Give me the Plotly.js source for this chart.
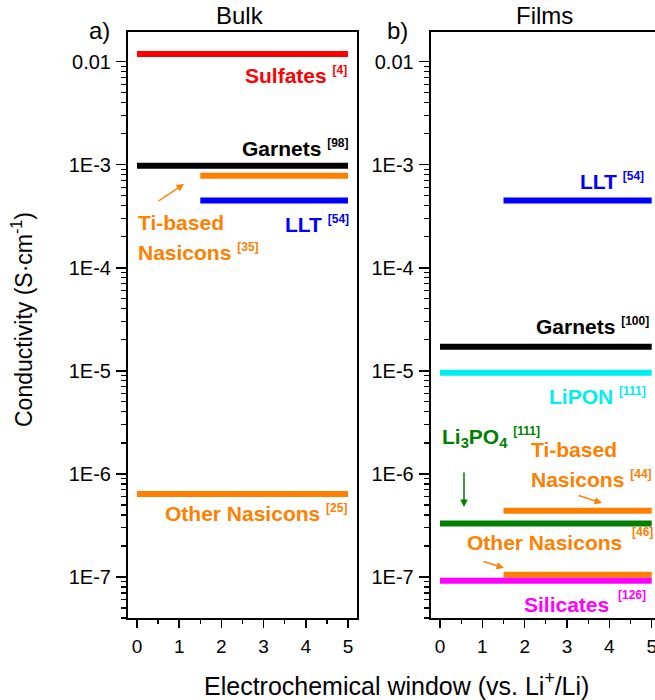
<!DOCTYPE html>
<html>
<head>
<meta charset="utf-8">
<script src="https://cdn.plot.ly/plotly-3.0.1.min.js"></script>
<style>html,body{margin:0;padding:0;background:#fff;}#chart{width:655px;height:700px;}</style>
</head>
<body>
<div id="chart"></div>
<script>
// ---- data ----
const bulkNames = ['Sulfates', 'Garnets', 'Ti-based Nasicons', 'LLT', 'Other Nasicons'];
const bulkStart = [0, 0, 1.5, 1.5, 0];
const bulkEnd   = [5, 5, 5, 5, 5];
const bulkCond  = [0.0119, 9.8e-4, 7.8e-4, 4.5e-4, 6.4e-7];

const filmNames = ['LLT', 'Garnets', 'LiPON', 'Ti-based Nasicons', 'Li3PO4', 'Other Nasicons', 'Silicates'];
const filmStart = [1.5, 0, 0, 1.5, 0, 1.5, 0];
const filmEnd   = [5, 5, 5, 5, 5, 5, 5];
const filmCond  = [4.5e-4, 1.71e-5, 9.6e-6, 4.4e-7, 3.3e-7, 1.05e-7, 9.2e-8];

const yTickVals = [1e-7, 1e-6, 1e-5, 1e-4, 1e-3, 1e-2];
const yTickText = ['1E-7', '1E-6', '1E-5', '1E-4', '1E-3', '0.01'];
const xTickVals = [0, 1, 2, 3, 4, 5];

// ---- styles ----
const ORANGE = '#FF8000';
const colorOf = {
  'Sulfates': '#FF0000', 'Garnets': '#000000', 'Ti-based Nasicons': ORANGE,
  'LLT': '#0000FF', 'Other Nasicons': ORANGE, 'LiPON': '#00EEEE',
  'Li3PO4': '#008000', 'Silicates': '#FF00FF'
};
const FONT = 'Liberation Sans, Arial, Helvetica, sans-serif';

const traces = [];
bulkNames.forEach((n, i) => traces.push({
  type: 'scatter', mode: 'lines', name: n, xaxis: 'x', yaxis: 'y',
  x: [bulkStart[i], bulkEnd[i]], y: [bulkCond[i], bulkCond[i]],
  line: {color: colorOf[n], width: 6}, hoverinfo: 'skip'
}));
filmNames.forEach((n, i) => traces.push({
  type: 'scatter', mode: 'lines', name: n, xaxis: 'x2', yaxis: 'y2',
  x: [filmStart[i], filmEnd[i]], y: [filmCond[i], filmCond[i]],
  line: {color: colorOf[n], width: 6}, hoverinfo: 'skip'
}));

// minor log ticks 2..9 per decade
const minorY = [];
for (let e = -8; e <= -2; e++) for (let m = 2; m <= 9; m++) minorY.push(m * Math.pow(10, e));

const W = 655, H = 700;
const px = x => x / W, py = y => 1 - y / H;

function yAxis(mirror) {
  return {
    type: 'log', range: [-7.398, -1.712], domain: [py(618), py(32)],
    tickmode: 'array', tickvals: yTickVals, ticktext: yTickText,
    ticks: 'outside', ticklen: 10, tickwidth: 1.5, tickcolor: '#000',
    minor: {tickmode: 'array', tickvals: minorY, ticks: 'outside', ticklen: 5, tickwidth: 1.2, tickcolor: '#000', showgrid: false},
    showline: true, linecolor: '#000', linewidth: 2, mirror: mirror,
    showgrid: false, zeroline: false, ticklabelstandoff: 1,
    tickfont: {family: FONT, size: 20, color: '#000'}
  };
}
function xAxis(domain, range, mirror) {
  return {
    range: range, domain: domain,
    tickmode: 'array', tickvals: xTickVals,
    ticks: 'outside', ticklen: 8, tickwidth: 1.5, tickcolor: '#000',
    minor: {dtick: 0.5, tick0: 0, ticks: 'outside', ticklen: 4, tickwidth: 1.2, tickcolor: '#000', showgrid: false},
    showline: true, linecolor: '#000', linewidth: 2, mirror: mirror,
    showgrid: false, zeroline: false, ticklabelstandoff: 2, ticklabeloverflow: 'allow',
    tickfont: {family: FONT, size: 19, color: '#000'}
  };
}

function lab(text, x, y, color, xanchor, size) {
  return {xref: 'paper', yref: 'paper', x: px(x), y: py(y), text: text,
    xanchor: xanchor || 'left', yanchor: 'middle', showarrow: false,
    font: {family: FONT, size: size || 21, color: color}};
}
function ref(r) { return ' <sup><span style="font-size:12px">[' + r + ']</span></sup>'; }
function arrow(x0, y0, x1, y1, color) {
  return {xref: 'paper', yref: 'paper', x: px(x1), y: py(y1), ax: x0 - x1, ay: y0 - y1,
    text: '', showarrow: true, arrowhead: 2, arrowsize: 1, arrowwidth: 1.5,
    arrowcolor: color, standoff: 0, startstandoff: 0};
}
function b(t) { return '<b>' + t + '</b>'; }

const annotations = [
  // titles / panel labels
  lab('Bulk', 240, 15, '#000', 'center', 24),
  lab('Films', 544, 15, '#000', 'center', 24),
  lab('a)', 99, 31, '#000', 'center', 24),
  lab('b)', 397, 31, '#000', 'center', 24),
  lab('Electrochemical window (vs. Li<sup>+</sup>/Li)', 396, 684, '#000', 'center', 25),
  Object.assign(lab('Conductivity (S·cm<sup>-1</sup>)', 22, 320, '#000', 'center', 23), {textangle: -90}),
  // panel a
  lab(b('Sulfates' + ref(4)), 349, 75, colorOf['Sulfates'], 'right'),
  lab(b('Garnets' + ref(98)), 351, 148, '#000', 'right'),
  lab(b('Ti-based'), 136, 223, ORANGE, 'left'),
  lab(b('Nasicons' + ref(35)), 136, 252, ORANGE, 'left'),
  arrow(157, 202, 184, 184, ORANGE),
  lab(b('LLT' + ref(54)), 351, 224, colorOf['LLT'], 'right'),
  lab(b('Other Nasicons' + ref(25)), 349, 513, ORANGE, 'right'),
  // panel b
  lab(b('LLT' + ref(54)), 646, 181, colorOf['LLT'], 'right'),
  lab(b('Garnets' + ref(100)), 651, 326, '#000', 'right'),
  lab(b('LiPON' + ref(111)), 648, 396, colorOf['LiPON'], 'right'),
  lab(b('Li<sub>3</sub>PO<sub>4</sub>' + ref(111)), 440, 438, colorOf['Li3PO4'], 'left'),
  arrow(464, 471, 464, 507, colorOf['Li3PO4']),
  lab(b('Ti-based'), 529, 449, ORANGE, 'left'),
  lab(b('Nasicons' + ref(44)), 529, 479, ORANGE, 'left'),
  arrow(577, 495, 602, 503, ORANGE),
  lab(b('Other Nasicons'), 465, 542, ORANGE, 'left'),
  lab(b('[46]'), 655, 532, ORANGE, 'right', 12),
  arrow(482, 561, 504, 568, ORANGE),
  lab(b('Silicates'), 522, 604, colorOf['Silicates'], 'left'),
  lab(b('[126]'), 648, 595, colorOf['Silicates'], 'right', 12)
];

const layout = {
  width: W, height: H, margin: {l: 0, r: 0, t: 0, b: 0},
  paper_bgcolor: '#fff', plot_bgcolor: '#fff', showlegend: false,
  font: {family: FONT, color: '#000'},
  xaxis: xAxis([px(128), px(357)], [-0.213, 5.213], true),
  yaxis: Object.assign(yAxis(true), {anchor: 'x'}),
  xaxis2: Object.assign(xAxis([px(430.7), 1], [-0.22, 5.078], true), {anchor: 'y2'}),
  yaxis2: Object.assign(yAxis(false), {anchor: 'x2'}),
  annotations: annotations
};
layout.xaxis.anchor = 'y';

Plotly.newPlot('chart', traces, layout, {staticPlot: true, displayModeBar: false});
</script>
</body>
</html>
